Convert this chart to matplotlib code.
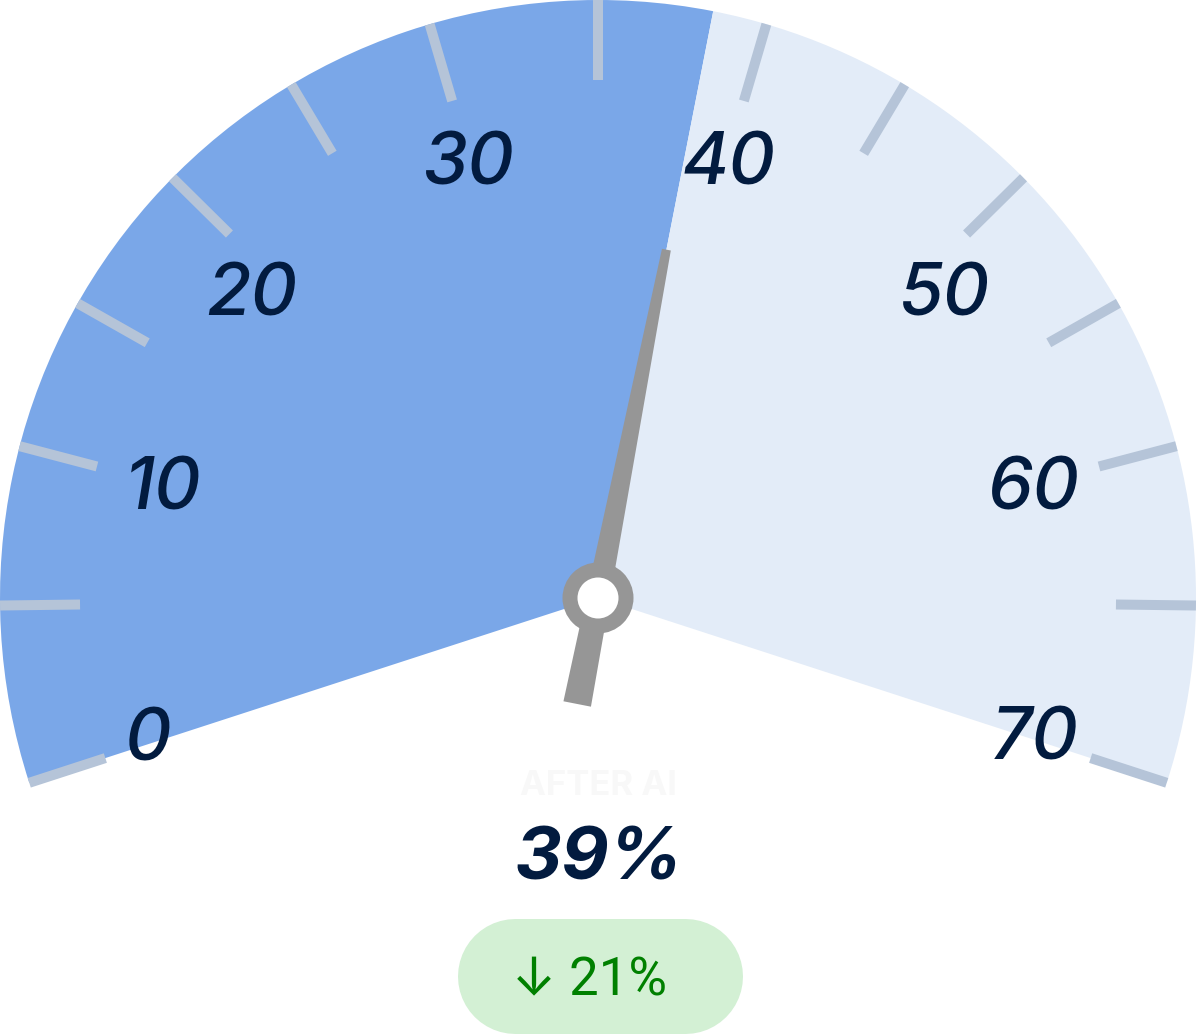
import numpy as np
import matplotlib
matplotlib.use("Agg")
import matplotlib.pyplot as plt
from matplotlib.patches import Wedge, Circle, Polygon

# data ==========================================================================
value = 38.6                      # needle reading, shown as a rounded percent
scale_min, scale_max = 0, 70
label_values = [0, 10, 20, 30, 40, 50, 60, 70]
tick_values = [0, 5.6, 10.6, 15.4, 20.3, 25, 29.7, 35, 40.3, 45, 49.7, 54.6, 59.4, 64.4, 70]
title = "AFTER AI"
change_text = "\u2193 21%"

# layout (pixels, y up) ========================================================
W, H = 1200, 1034
cx, cy = 598, H - 598
R = 598
start_deg, end_deg = 198, -18
label_angles = [196.9, 165.3, 138.3, 106.5, 73.5, 41.7, 14.7, -17.3]
label_radii = [470, 450, 464, 458, 458, 464, 450, 457]

BLUE = "#7aa7e8"
LIGHT = "#e3ecf8"
TICK = "#b5c4d8"
NAVY = "#021b3f"
GRAY = "#969696"


def ang(v):
    return start_deg + (v - scale_min) / (scale_max - scale_min) * (end_deg - start_deg)


def pt(r, a):
    t = np.radians(a)
    return cx + r * np.cos(t), cy + r * np.sin(t)


fig = plt.figure(figsize=(W / 100, H / 100), dpi=100)
ax = fig.add_axes([0, 0, 1, 1])
ax.set_xlim(0, W)
ax.set_ylim(0, H)
ax.axis('off')

# sectors
a_val = ang(value)
ax.add_patch(Wedge((cx, cy), R, a_val, start_deg, facecolor=BLUE, edgecolor='none', zorder=1))
ax.add_patch(Wedge((cx, cy), R, end_deg, a_val, facecolor=LIGHT, edgecolor='none', zorder=1))

# ticks
for v in tick_values:
    a = ang(v)
    x0, y0 = pt(R - 80, a)
    x1, y1 = pt(R, a)
    ax.plot([x0, x1], [y0, y1], color=TICK, lw=7.2, solid_capstyle='butt', zorder=2)

# labels
for v, a, r in zip(label_values, label_angles, label_radii):
    x, y = pt(r, a)
    ax.text(x, y - 26, str(v), ha='center', va='baseline', fontsize=52,
            family=['Inter', 'Roboto'], style='italic', weight='medium', color=NAVY, zorder=3)

# needle (tapered bar with short tail)
t = np.radians(a_val)
d = np.array([np.cos(t), np.sin(t)])
n = np.array([-d[1], d[0]])
c = np.array([cx, cy])
tail, tip = c - 108 * d, c + 355 * d
needle = [tail + 14 * n, tip + 4.5 * n, tip - 4.5 * n, tail - 14 * n]
ax.add_patch(Polygon(needle, closed=True, facecolor=GRAY, edgecolor='none', zorder=4))
ax.add_patch(Circle((cx, cy), 35.5, facecolor=GRAY, edgecolor='none', zorder=5))
ax.add_patch(Circle((cx, cy), 20.5, facecolor='white', edgecolor='none', zorder=6))

# texts below
ax.text(599, 239, title, ha='center', va='baseline', fontsize=25, family=['Inter', 'Roboto'],
        weight='bold', color='#f8f8f8', zorder=3)
ax.text(599, 154, f"{value:.0f}%", ha='center', va='baseline', fontsize=52.5,
        family=['Inter', 'Roboto'], style='italic', weight='bold', color=NAVY, zorder=3)

# change badge (pill)
ax.plot([514.5, 684.5], [58.5, 58.5], color="#d3f0d4", lw=115 * 0.72,
        solid_capstyle='round', zorder=2)
ax.text(589, 39, change_text, ha='center', va='baseline', fontsize=38,
        family=['Roboto', 'Inter', 'DejaVu Sans'], color='#008000', zorder=3)

fig.savefig('out.png', dpi=100, facecolor='white')
